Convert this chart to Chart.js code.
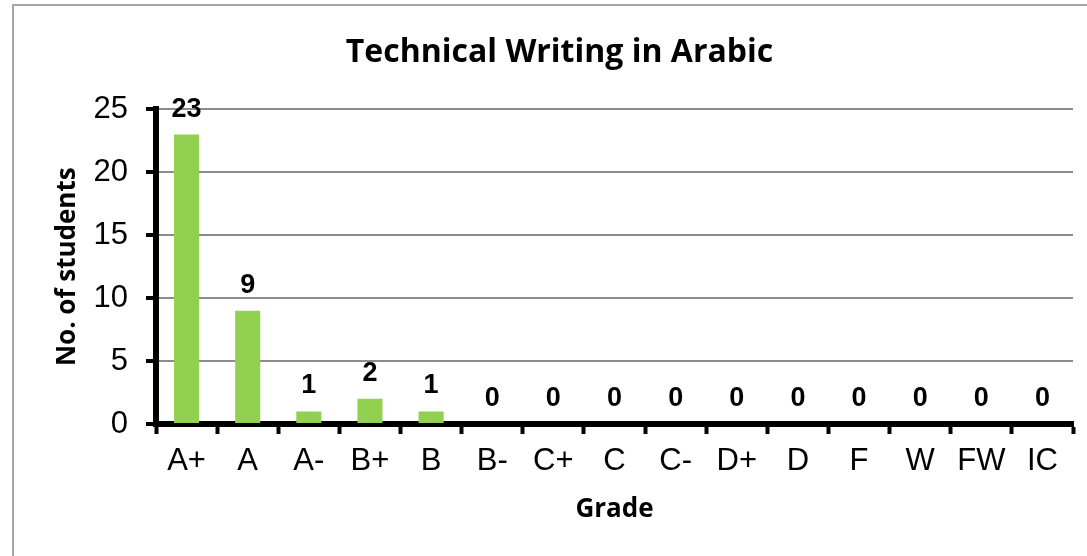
<!DOCTYPE html>
<html>
<head>
<meta charset="utf-8">
<script src="https://cdn.jsdelivr.net/npm/chart.js@4/dist/chart.umd.min.js"></script>
<style>
  html, body { margin: 0; padding: 0; background: #fff; overflow: hidden; }
  canvas { display: block; }
</style>
</head>
<body>
<canvas id="gradeChart" width="1118" height="556"></canvas>
<script>
// grade distribution
const grades = ["A+", "A", "A-", "B+", "B", "B-", "C+", "C", "C-", "D+", "D", "F", "W", "FW", "IC"];
const students = [23, 9, 1, 2, 1, 0, 0, 0, 0, 0, 0, 0, 0, 0, 0];
const yTicks = [0, 5, 10, 15, 20, 25];

const TICK_FONT = "'Liberation Sans', Arial, sans-serif";
const TITLE_FONT = "'Open Sans', sans-serif";

// gray frame of the chart object, only left and top edges are inside the window
const framePlugin = {
    id: "frame",
    beforeDraw(chart) {
        const ctx = chart.ctx;
        ctx.save();
        ctx.strokeStyle = "#a6a6a6";
        ctx.lineWidth = 2;
        ctx.strokeRect(13, 5, 1300, 800);
        ctx.restore();
    },
};

// bold value above every bar
const valueLabels = {
    id: "valueLabels",
    afterDatasetsDraw(chart) {
        const ctx = chart.ctx;
        const meta = chart.getDatasetMeta(0);
        ctx.save();
        ctx.font = "bold 27px " + TICK_FONT;
        ctx.fillStyle = "#000";
        ctx.textAlign = "center";
        ctx.textBaseline = "alphabetic";
        meta.data.forEach((bar, i) => {
            ctx.fillText(String(students[i]), bar.x, bar.y - 18);
        });
        ctx.restore();
    },
};

new Chart(document.getElementById("gradeChart"), {
    type: "bar",
    data: {
        labels: grades,
        datasets: [{
            data: students,
            backgroundColor: "#92d050",
            borderWidth: 0,
            barPercentage: 0.41,
            categoryPercentage: 1,
        }],
    },
    options: {
        responsive: false,
        animation: false,
        layout: { padding: { left: 46, right: 45, top: 0, bottom: 0 } },
        plugins: {
            legend: { display: false },
            tooltip: { enabled: false },
            title: {
                display: true,
                text: "Technical Writing in Arabic",
                color: "#000",
                font: { family: TITLE_FONT, size: 32, weight: "bold" },
                padding: { top: 34, bottom: 37 },
            },
        },
        scales: {
            x: {
                grid: {
                    drawOnChartArea: false,
                    tickColor: "#000",
                    tickWidth: 4,
                    tickLength: 10,
                },
                border: { color: "#000", width: 6 },
                ticks: {
                    color: "#000",
                    font: { family: TICK_FONT, size: 31 },
                    padding: 9,
                    maxRotation: 0,
                    autoSkip: false,
                },
                title: {
                    display: true,
                    text: "Grade",
                    color: "#000",
                    font: { family: TITLE_FONT, size: 26, weight: "bold" },
                    padding: { top: 4, bottom: 31 },
                },
                afterFit(scale) { scale.height = 132; },
            },
            y: {
                min: 0,
                max: 25,
                afterBuildTicks(scale) {
                    scale.ticks = yTicks.map((v) => ({ value: v }));
                },
                grid: {
                    color: (c) => (c.tick && c.tick.value === 0 ? "rgba(0,0,0,0)" : "#8c8c8c"),
                    lineWidth: 2,
                    tickColor: "#000",
                    tickWidth: 4,
                    tickLength: 10,
                },
                border: { color: "#000", width: 6 },
                ticks: {
                    color: "#000",
                    font: { family: TICK_FONT, size: 31 },
                    padding: 18,
                },
                title: {
                    display: true,
                    text: "No. of students",
                    color: "#000",
                    font: { family: TITLE_FONT, size: 26, weight: "bold" },
                    padding: { top: 6, bottom: 6 },
                },
                afterFit(scale) { scale.width = 110; },
            },
        },
    },
    plugins: [framePlugin, valueLabels],
});
</script>
</body>
</html>
